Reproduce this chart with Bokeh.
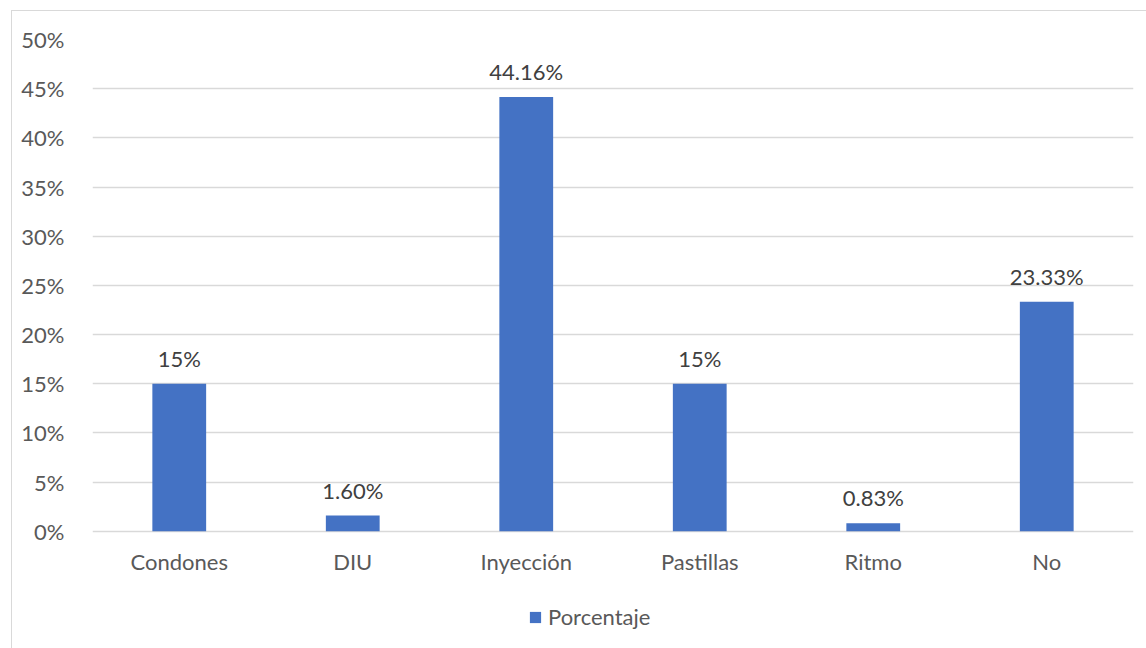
from bokeh.plotting import figure
from bokeh.models import ColumnDataSource, FactorRange, Range1d, NumeralTickFormatter, FixedTicker, Legend, LegendItem
from bokeh.core.properties import value
from bokeh.embed import file_html
from bokeh.resources import INLINE

categories = ["Condones", "DIU", "Inyección", "Pastillas", "Ritmo", "No"]
porcentaje = [0.15, 0.016, 0.4416, 0.15, 0.0083, 0.2333]
etiquetas = ["15%", "1.60%", "44.16%", "15%", "0.83%", "23.33%"]
y_ticks = [0, 0.05, 0.10, 0.15, 0.20, 0.25, 0.30, 0.35, 0.40, 0.45, 0.50]
series_name = "Porcentaje"

FONT = "Lato"
FS = "22px"
src = ColumnDataSource(dict(cat=categories, val=porcentaje, lab=etiquetas,
                            base=[0] * len(categories)))

p = figure(x_range=FactorRange(*categories, range_padding=0), y_range=Range1d(-0.11, 0.5),
           width=1135, height=638, output_backend="svg", toolbar_location=None,
           min_border_left=80, min_border_right=14, min_border_top=28, min_border_bottom=10)
p.margin = (10, 0, 0, 11)
p.styles = {"border-left": "1px solid #d9d9d9", "border-top": "1px solid #d9d9d9"}
p.outline_line_color = None

r = p.vbar(x="cat", top="val", width=0.31, source=src, fill_color="#4472C4", line_color=None)
p.text(x="cat", y="val", text="lab", source=src, text_align="center", text_baseline="bottom",
       y_offset=-12, text_font=value(FONT), text_font_size=FS, text_color="#404040")
# category labels under the 0% line
p.text(x="cat", y="base", text="cat", source=src, text_align="center", text_baseline="middle",
       y_offset=30, text_font=value(FONT), text_font_size=FS, text_color="#595959")

p.xaxis.visible = False
p.yaxis.ticker = FixedTicker(ticks=y_ticks)
p.yaxis.formatter = NumeralTickFormatter(format="0%")
ax = p.yaxis
ax.axis_line_color = None
ax.major_tick_line_color = None
ax.minor_tick_line_color = None
ax.major_label_text_font = FONT
ax.major_label_text_font_size = FS
ax.major_label_text_color = "#595959"
ax.major_label_standoff = 22
p.xgrid.grid_line_color = None
p.ygrid.grid_line_color = "#d9d9d9"
p.ygrid.grid_line_width = 1.3
p.ygrid.ticker = FixedTicker(ticks=y_ticks)

legend = Legend(items=[LegendItem(label=series_name, renderers=[r])], orientation="horizontal",
                location=(436, 9), border_line_color=None, background_fill_alpha=0,
                label_text_font=FONT, label_text_font_size=FS, label_text_color="#595959",
                glyph_width=14, glyph_height=14, label_standoff=6, padding=0, margin=0)
p.add_layout(legend, "center")

open("out.html", "w").write(file_html(p, INLINE))
